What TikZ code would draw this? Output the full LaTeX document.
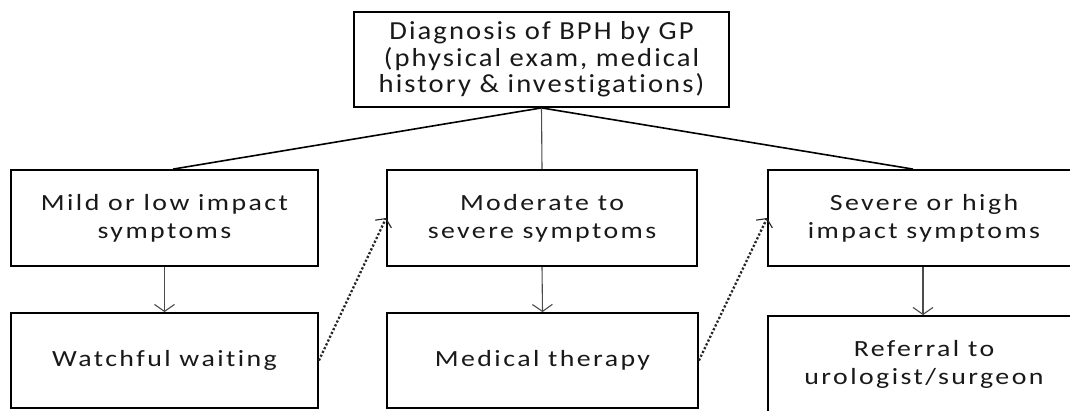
\documentclass[tikz,border=0pt]{standalone}
\usepackage{fontspec}
\setmainfont{Carlito}
\newfontfamily\topfont[LetterSpace=8,FakeStretch=1.1,Ligatures=NoCommon]{Carlito}
\newfontfamily\boxfont[LetterSpace=10.5,FakeStretch=1.2,Ligatures=NoCommon]{Carlito}
\usetikzlibrary{arrows.meta,calc}
\tikzset{
  box/.style={draw=black, line width=1.8pt, fill=white, align=center, inner sep=0pt,
    font=\boxfont\fontsize{23.2}{28}\selectfont, text=black!90},
  topbox/.style={box, font=\topfont\fontsize{26}{26.7}\selectfont},
  treeline/.style={draw=black, line width=1.6pt},
  stemline/.style={draw=black!70, line width=1.1pt},
  downarrow/.style={draw=black!70, line width=1.1pt, -{Straight Barb[length=7pt,width=20pt,line width=1.1pt]}},
  dotarrow/.style={draw=black!85, line width=2.3pt, dash pattern=on 2.2pt off 2pt,
    -{Straight Barb[length=6pt,width=18pt,line width=1.1pt,sep=0pt]}}
}
\begin{document}
\begin{tikzpicture}[x=1pt,y=-1pt]
\useasboundingbox (0,0) rectangle (1070,410);
\clip (0,0) rectangle (1070,410);
\node[topbox, minimum width=375pt, minimum height=95pt] (top) at (541.5,59.5)
  {Diagnosis of BPH by GP\\(physical exam, medical\\history \& investigations)};
\node[box, minimum width=307pt, minimum height=96pt] (mild) at (164.5,218)
  {Mild or low impact\\symptoms};
\node[box, minimum width=310pt, minimum height=96pt] (moderate) at (542,218)
  {Moderate to\\severe symptoms};
\node[box, minimum width=312pt, minimum height=96pt] (severe) at (924,218)
  {Severe or high\\impact symptoms};
\node[box, minimum width=307pt, minimum height=95pt] (watch) at (164.5,360.5)
  {Watchful waiting};
\node[box, minimum width=311pt, minimum height=95pt] (medical) at (542.5,360.5)
  {Medical therapy};
\node[box, minimum width=312pt, minimum height=96pt] (referral) at (924,364)
  {Referral to\\urologist/surgeon};
\draw[treeline] (top.south) -- ($(mild.north)+(8.5,0)$);
\draw[treeline] (top.south) -- ($(severe.north)+(-11,0)$);
\draw[stemline] (top.south) -- (moderate.north);
\draw[downarrow] (mild.south) -- (watch.north);
\draw[downarrow] (moderate.south) -- (medical.north);
\draw[downarrow] ($(severe.south)+(-1,0)$) -- ($(referral.north)+(-1,0)$);
\draw[dotarrow] (watch.east) -- (moderate.west);
\draw[dotarrow] (medical.east) -- (severe.west);
\end{tikzpicture}
\end{document}
